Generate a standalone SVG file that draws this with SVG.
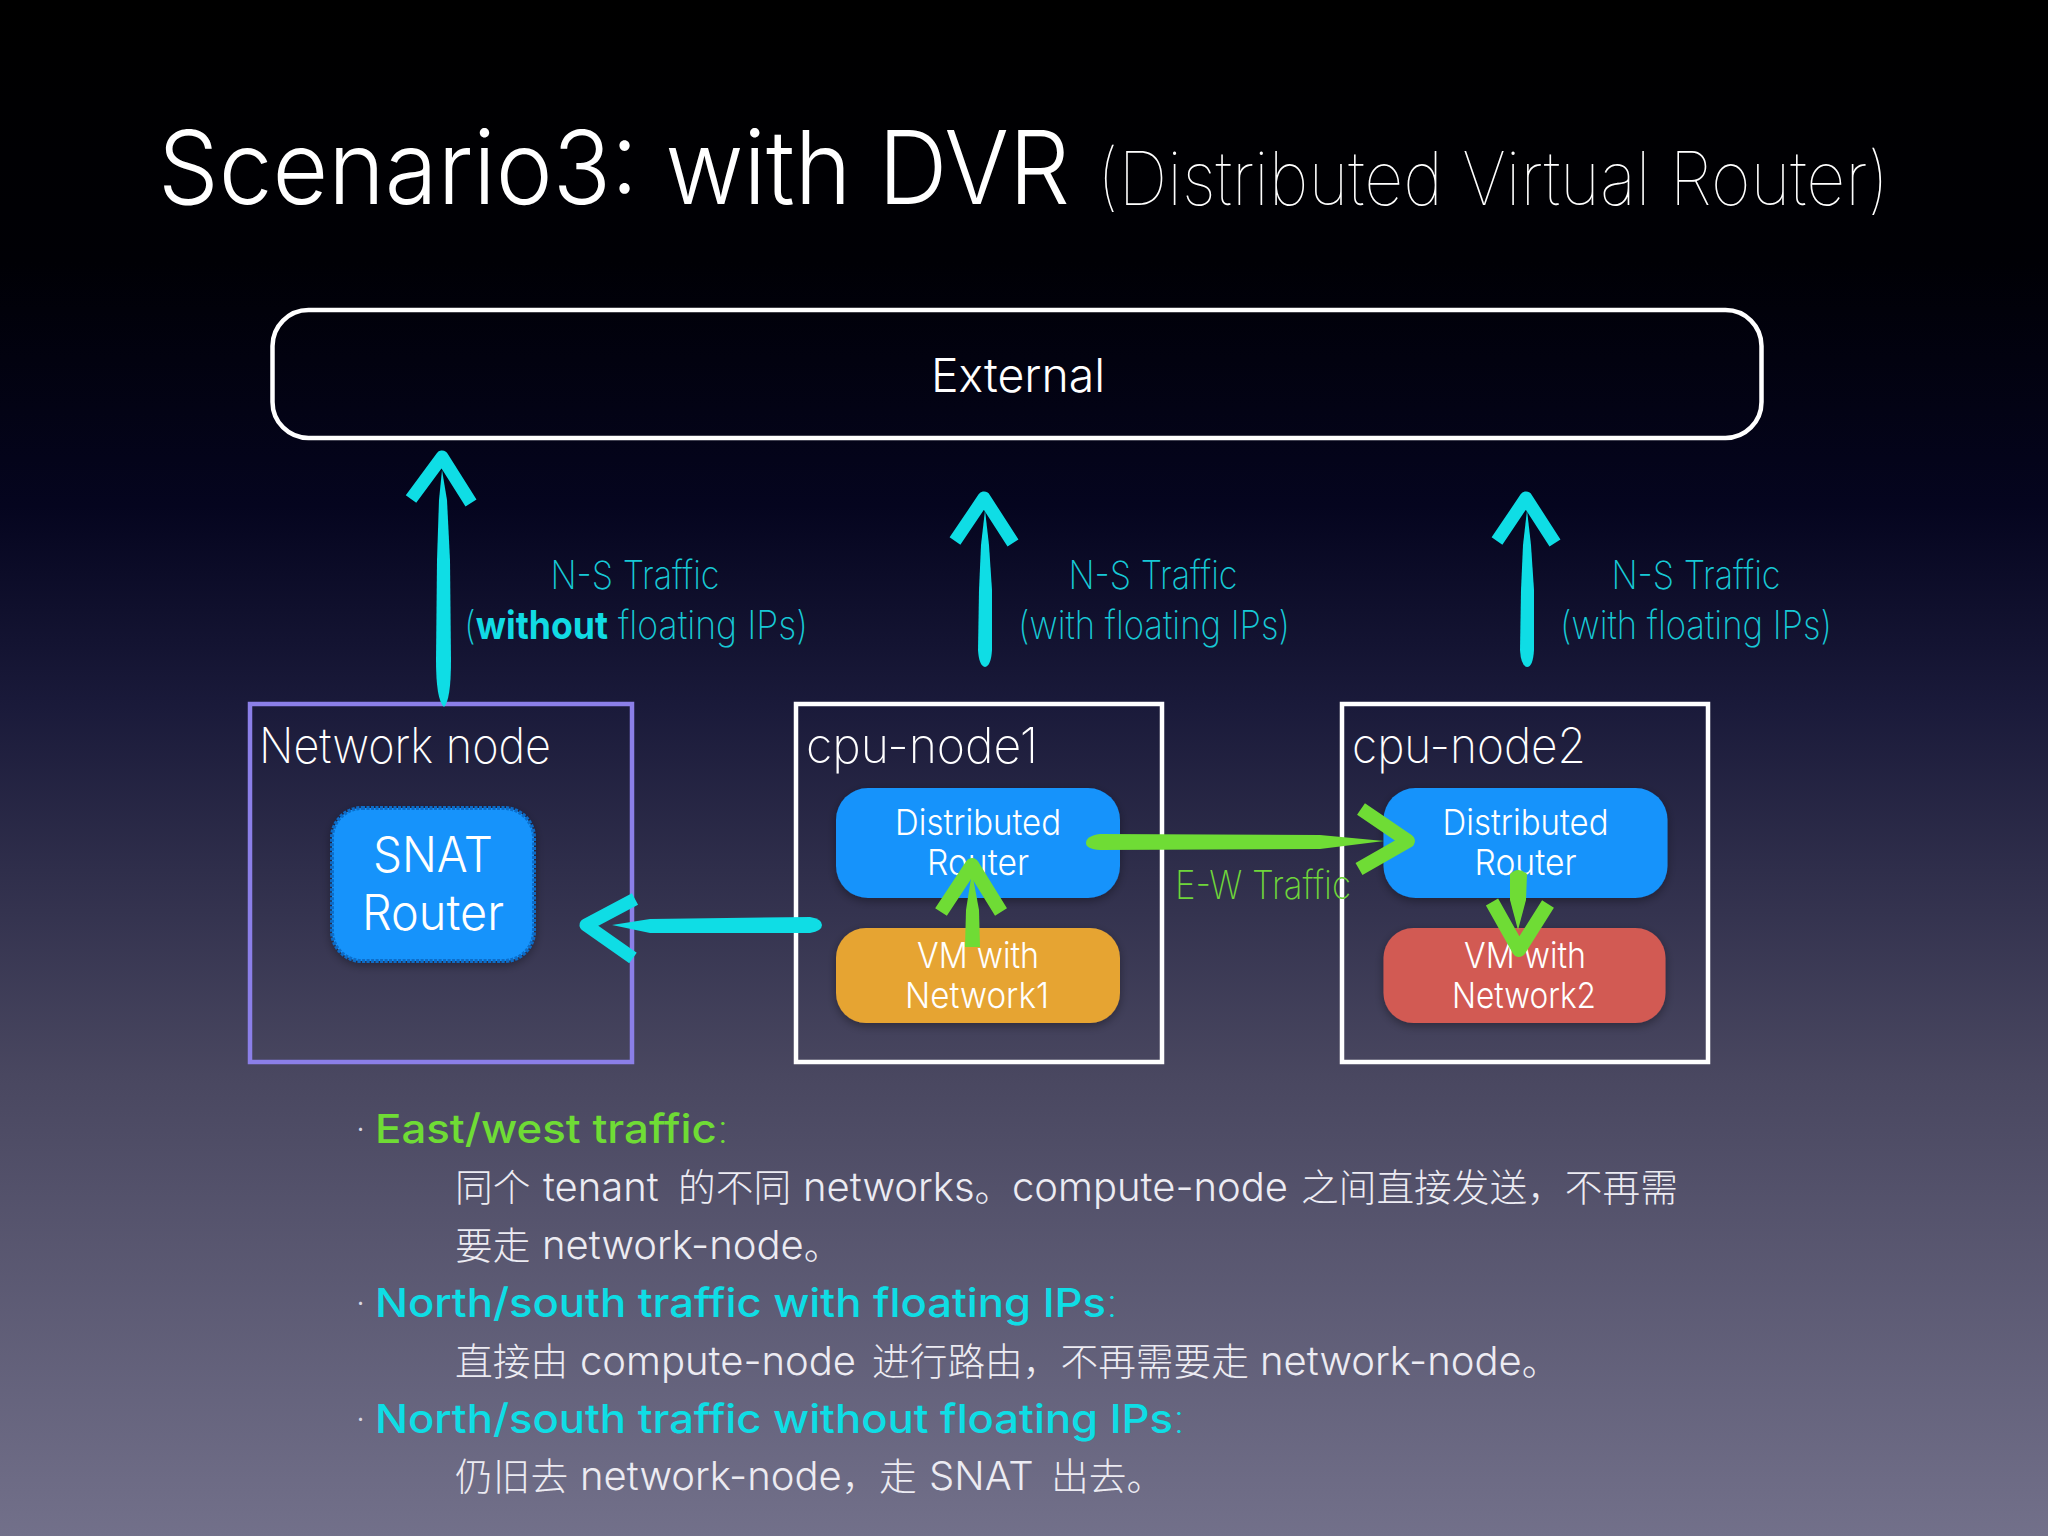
<svg xmlns="http://www.w3.org/2000/svg" width="2048" height="1536" viewBox="0 0 2048 1536">
<defs>
<linearGradient id="bg" x1="0" y1="0" x2="0" y2="1">
<stop offset="0" stop-color="#000000"/><stop offset="0.17" stop-color="#000005"/><stop offset="0.33" stop-color="#05051f"/><stop offset="0.46" stop-color="#1a1a3a"/><stop offset="0.7" stop-color="#494760"/><stop offset="1" stop-color="#72708a"/>
</linearGradient>
<filter id="sh" x="-15%" y="-15%" width="130%" height="135%"><feDropShadow dx="0" dy="3" stdDeviation="5" flood-color="#000" flood-opacity="0.35"/></filter>
</defs>
<style>
text{font-family:"Inter","Liberation Sans","Noto Sans CJK SC",sans-serif;fill:#fff}
.ctr{text-anchor:middle}
.cy{fill:#17c9d6;font-size:39px;font-weight:200}
.box{fill:none;stroke:#fff;stroke-width:4.5}
.lbl{font-size:36px;font-weight:300}
.big{font-size:49px;font-weight:300}
.nn{font-size:49px;font-weight:200}
.hd{font-size:40px;font-weight:500}
.dot{font-size:40px;font-weight:200;fill:#d8d8e2}
.thinc{font-weight:200}
.bd{font-size:40px;font-weight:300;fill:#ecebf2;font-family:"Inter","Noto Sans CJK SC",sans-serif}
.z{font-size:37.7px;font-family:"Noto Sans CJK SC",sans-serif;font-weight:300}
.c{fill:#0fdde5}.g{fill:#6fdc35}
.cs{fill:none;stroke:#0fdde5;stroke-width:13;stroke-linejoin:round}
.gs{fill:none;stroke:#6fdc35;stroke-width:14;stroke-linejoin:round}
</style>
<rect width="2048" height="1536" fill="url(#bg)"/>
<g id="title">
<text x="158" y="204" font-size="102" font-weight="300" textLength="912" lengthAdjust="spacingAndGlyphs">Scenario3: with DVR</text>
<text x="1097" y="205" font-size="74" font-weight="100" textLength="792" lengthAdjust="spacingAndGlyphs">(Distributed Virtual Router)</text>
</g>
<g id="external"><rect x="272.500" y="310" width="1489" height="128" rx="36" class="box"/><text x="1018" y="392" class="ctr" font-size="47" font-weight="300" textLength="174" lengthAdjust="spacingAndGlyphs">External</text></g>
<g id="network-node"><rect x="250" y="704" width="382" height="358" fill="none" stroke="#8b7fe8" stroke-width="4.500"/><text x="259" y="763" class="nn" textLength="292" lengthAdjust="spacingAndGlyphs">Network node</text></g>
<g id="snat-router"><rect x="332" y="808" width="202" height="153" rx="30" fill="#1493fb" stroke="#0a6cc8" stroke-width="4" stroke-dasharray="3 1.500" filter="url(#sh)"/><text x="433" y="872" class="ctr big" textLength="120" lengthAdjust="spacingAndGlyphs">SNAT</text><text x="433" y="930" class="ctr big" textLength="142" lengthAdjust="spacingAndGlyphs">Router</text></g>
<g id="cpu-node1"><rect x="796" y="704" width="366" height="358" class="box"/><text x="806" y="763" class="nn" textLength="232" lengthAdjust="spacingAndGlyphs">cpu-node1</text></g>
<g id="dr1"><rect x="836" y="788" width="284" height="110" rx="32" fill="#1493fb" filter="url(#sh)"/><text x="978" y="835" class="ctr lbl" textLength="166" lengthAdjust="spacingAndGlyphs">Distributed</text><text x="978" y="875" class="ctr lbl" textLength="102" lengthAdjust="spacingAndGlyphs">Router</text></g>
<g id="vm1"><rect x="836" y="928" width="284" height="95" rx="30" fill="#e6a433" filter="url(#sh)"/><text x="978" y="968" class="ctr lbl" textLength="122" lengthAdjust="spacingAndGlyphs">VM with</text><text x="977" y="1008" class="ctr lbl" textLength="144" lengthAdjust="spacingAndGlyphs">Network1</text></g>
<g id="cpu-node2"><rect x="1342" y="704" width="366" height="358" class="box"/><text x="1352" y="763" class="nn" textLength="234" lengthAdjust="spacingAndGlyphs">cpu-node2</text></g>
<g id="dr2"><rect x="1383.500" y="788" width="284" height="110" rx="32" fill="#1493fb" filter="url(#sh)"/><text x="1525.500" y="835" class="ctr lbl" textLength="166" lengthAdjust="spacingAndGlyphs">Distributed</text><text x="1525.500" y="875" class="ctr lbl" textLength="102" lengthAdjust="spacingAndGlyphs">Router</text></g>
<g id="vm2"><rect x="1383.500" y="928" width="282" height="95" rx="30" fill="#d25a53" filter="url(#sh)"/><text x="1525" y="968" class="ctr lbl" textLength="122" lengthAdjust="spacingAndGlyphs">VM with</text><text x="1524" y="1008" class="ctr lbl" textLength="144" lengthAdjust="spacingAndGlyphs">Network2</text></g>
<g id="connectors">
<path class="c" d="M442 470 L447 500 L450 560 L451 660 Q451 700 444 707 Q436 700 436 660 L437 560 L439 500 Z"/>
<polyline class="cs" points="411,499 442,457 471,503"/>
<path class="c" d="M985 510 L989 545 L992 590 L992 650 Q991 666 985 667 Q979 666 978 650 L979 590 L981 545 Z"/>
<polyline class="cs" points="955,541 984,498 1013,543"/>
<path class="c" d="M1527 510 L1531 545 L1534 590 L1534 650 Q1533 667 1527 667 Q1521 666 1520 650 L1521 590 L1523 545 Z"/>
<polyline class="cs" points="1497,541 1526,498 1555,543"/>
<path class="c" d="M612 925 L650 919 L810 917 Q822 919 822 925 Q822 931 810 933 L650 933 Z"/>
<polyline class="cs" points="635,899 586,925 633,958"/>
<path class="g" d="M1384 841 L1320 835 L1100 834 Q1086 836 1086 843 Q1086 849 1100 850 L1320 849 Z"/>
<polyline class="gs" points="1361,809 1408,841 1359,869"/>
<path class="g" d="M972 872 L979 910 L980 947 L965 947 L966 910 Z"/>
<polyline class="gs" points="941,912 972,865 1001,912"/>
<path class="g" d="M1518 930 L1526 900 L1527 874 Q1518 866 1510 874 L1510 900 Z"/>
<polyline class="gs" points="1492,902 1519,950 1548,904"/>
</g>
<g id="labels">
<text x="635" y="589" class="ctr cy" textLength="169" lengthAdjust="spacingAndGlyphs">N-S Traffic</text>
<text x="464" y="639" class="cy" textLength="344" lengthAdjust="spacingAndGlyphs">(<tspan font-weight="700" fill="#11dbe4">without</tspan> floating IPs)</text>
<text x="1153" y="589" class="ctr cy" textLength="169" lengthAdjust="spacingAndGlyphs">N-S Traffic</text>
<text x="1154" y="639" class="ctr cy" textLength="272" lengthAdjust="spacingAndGlyphs">(with floating IPs)</text>
<text x="1696" y="589" class="ctr cy" textLength="169" lengthAdjust="spacingAndGlyphs">N-S Traffic</text>
<text x="1696" y="639" class="ctr cy" textLength="272" lengthAdjust="spacingAndGlyphs">(with floating IPs)</text>
<text x="1175" y="899" font-size="39" font-weight="200" style="fill:#6fd63a" textLength="176" lengthAdjust="spacingAndGlyphs">E-W Traffic</text>
</g>
<g id="notes">
<text x="355" y="1143" class="dot">·</text>
<text x="375" y="1143" class="hd" style="fill:#6fdc35" textLength="354" lengthAdjust="spacingAndGlyphs">East/west traffic<tspan class="thinc">:</tspan></text>
<text x="455" y="1201" class="bd"><tspan x="455" class="z">同个 </tspan><tspan x="543">tenant </tspan><tspan x="678" class="z">的不同 </tspan><tspan x="803">networks</tspan><tspan class="z">。</tspan><tspan x="1012">compute-node </tspan><tspan x="1301" class="z">之间直接发送，不再需</tspan></text>
<text x="455" y="1259" class="bd"><tspan x="455" class="z">要走 </tspan><tspan x="542">network-node</tspan><tspan class="z">。</tspan></text>
<text x="355" y="1317" class="dot">·</text>
<text x="375" y="1317" class="hd" style="fill:#0fdde5" textLength="743" lengthAdjust="spacingAndGlyphs">North/south traffic with floating IPs<tspan class="thinc">:</tspan></text>
<text x="455" y="1375" class="bd"><tspan x="455" class="z">直接由 </tspan><tspan x="580">compute-node </tspan><tspan x="872" class="z">进行路由，不再需要走 </tspan><tspan x="1260">network-node</tspan><tspan class="z">。</tspan></text>
<text x="355" y="1433" class="dot">·</text>
<text x="375" y="1433" class="hd" style="fill:#0fdde5" textLength="810" lengthAdjust="spacingAndGlyphs">North/south traffic without floating IPs<tspan class="thinc">:</tspan></text>
<text x="455" y="1490" class="bd"><tspan x="455" class="z">仍旧去 </tspan><tspan x="580">network-node</tspan><tspan class="z">，</tspan><tspan x="879" class="z">走 </tspan><tspan x="929">SNAT </tspan><tspan x="1051" class="z">出去。</tspan></text>
</g>
</svg>
